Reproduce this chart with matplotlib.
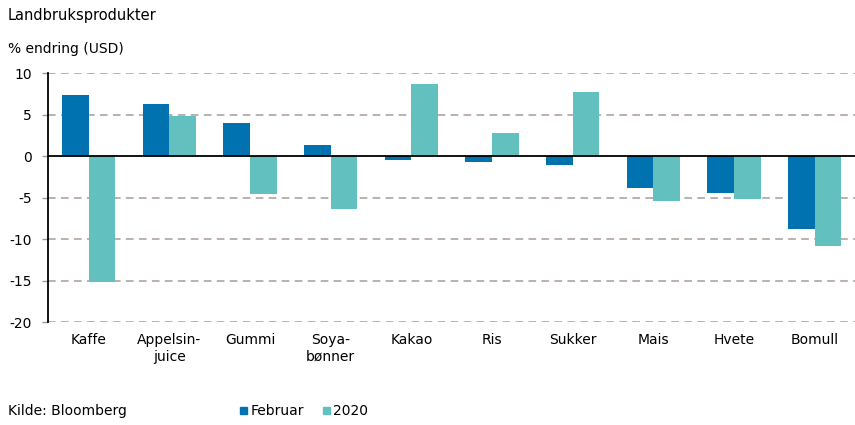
import matplotlib
matplotlib.use("Agg")
import matplotlib.pyplot as plt
import numpy as np
from matplotlib.patches import Rectangle

categories = ["Kaffe", "Appelsin-\njuice", "Gummi", "Soya-\nbønner", "Kakao",
              "Ris", "Sukker", "Mais", "Hvete", "Bomull"]
februar = [7.4, 6.3, 4.0, 1.35, -0.5, -0.65, -1.1, -3.85, -4.4, -8.7]
y2020 = [-15.1, 4.8, -4.6, -6.3, 8.7, 2.85, 7.75, -5.4, -5.2, -10.8]
yticks = [10, 5, 0, -5, -10, -15, -20]

c_feb = "#0072b0"
c_20 = "#62c1bf"
grid_c = "#a89d96"

plt.rcParams['font.family'] = ['DejaVu Sans']
fig = plt.figure(figsize=(8.55, 4.25), dpi=100)
ax = fig.add_axes([0.0565, 0.2416, 0.9435, 0.5859])

x = np.arange(len(categories))
w = 0.33
ax.bar(x - w/2, februar, w, color=c_feb, zorder=3)
ax.bar(x + w/2, y2020, w, color=c_20, zorder=3)

ax.set_xlim(-0.5, len(categories) - 0.5)
ax.set_ylim(-20, 10)
ax.set_yticks(yticks)
ax.set_yticklabels([str(t) for t in yticks], fontsize=10)
for t in yticks:
    if t != 0:
        ax.axhline(t, color=grid_c, lw=1.1, ls=(0, (5, 3.5)), zorder=1)
ax.axhline(0, color="black", lw=1.3, zorder=4)

ax.set_xticks(x)
ax.set_xticklabels(categories, fontsize=10, linespacing=1.2)
ax.tick_params(axis='x', length=0, pad=8)
ax.tick_params(axis='y', length=4, color="#999999", width=1, pad=8)

for s in ["top", "right", "bottom"]:
    ax.spines[s].set_visible(False)
ax.spines["left"].set_color("black")
ax.spines["left"].set_linewidth(1.3)

fig.text(0.009, 0.952, "Landbruksprodukter", fontsize=10.5, ha="left", va="baseline")
fig.text(0.009, 0.875, "% endring (USD)", fontsize=10, ha="left", va="baseline")
fig.text(0.009, 0.024, "Kilde: Bloomberg", fontsize=10, ha="left", va="baseline")

# legend
fig.patches.append(Rectangle((239.5/855, 1-414/425), 7.5/855, 7.5/425, transform=fig.transFigure,
                             color=c_feb))
fig.text(251/855, 0.024, "Februar", fontsize=10, ha="left", va="baseline")
fig.patches.append(Rectangle((322.5/855, 1-414/425), 7.5/855, 7.5/425, transform=fig.transFigure,
                             color=c_20))
fig.text(333/855, 0.024, "2020", fontsize=10, ha="left", va="baseline")

fig.savefig("out.png", dpi=100)
